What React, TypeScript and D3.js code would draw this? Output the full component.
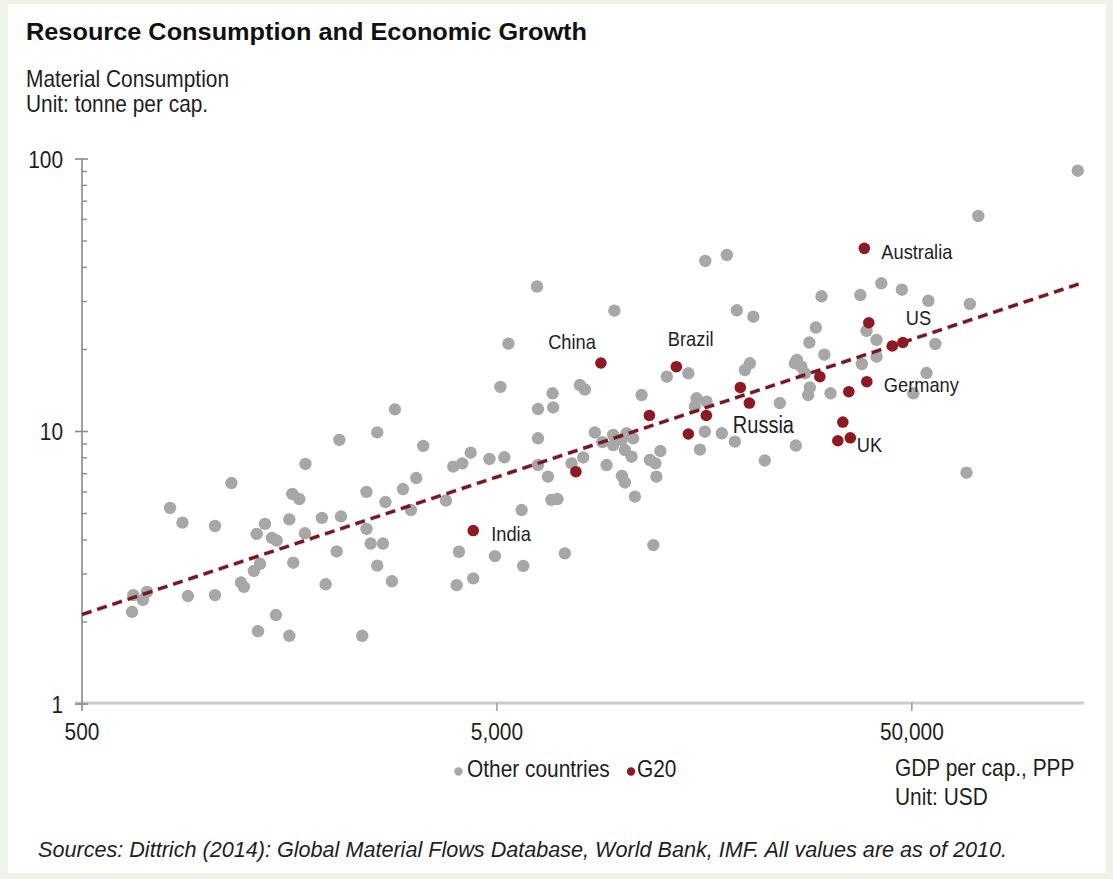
import React from 'react';
import * as d3 from 'd3';

// ---------- DATA ----------
// Other countries: GDP per cap. (PPP, USD) and material consumption (tonne per cap.)
const otherGdp = [
  665, 717, 701, 660, 815, 873, 900, 1046, 1046, 1146,
  1208, 1228, 1298, 1328, 1343, 1318, 1380, 1435, 1473, 1467,
  1580, 1580, 1606, 1670, 1615, 1728, 1723, 1893, 1933, 2085,
  2104, 2055, 2368, 2424, 2424, 2481, 2656, 2574, 2792, 2574,
  2693, 2839, 2968, 3103, 3196, 3322, 3768, 3924, 3999, 4050,
  4125, 4322, 4384, 4796, 4945, 5097, 5210, 5330, 5735, 5786,
  6245, 6280, 6280, 6280, 6636, 6765, 6995, 6810, 6833, 7290,
  7568, 7924, 8146, 8072, 8609, 8978, 9532, 9988, 10268, 10651,
  10172, 10558, 9532, 9190, 9596, 10006, 10172, 10752, 11158, 11686,
  12048, 12115, 12386, 11915, 12838, 14466, 15141, 15000, 16004, 15423,
  15856, 15890, 17913, 17420, 18726, 18934, 20751, 20352, 19797, 22113,
  24034, 26127, 26272, 26421, 27084, 27620, 28312, 29354, 28388, 28125,
  30296, 30771, 31850, 37571, 37887, 41108, 41108, 42214, 47302, 50416,
  54254, 54806, 56965, 67727, 68987, 72309, 125594, 38887,
];
const otherMaterial = [
  2.51, 2.58, 2.41, 2.18, 5.24, 4.63, 2.49, 4.5, 2.51, 6.47,
  2.79, 2.69, 3.08, 1.85, 3.27, 4.21, 4.58, 4.07, 3.98, 2.12,
  4.76, 1.78, 5.9, 5.65, 3.3, 7.6, 4.23, 4.82, 2.75, 9.31,
  4.88, 3.63, 1.78, 6.0, 4.39, 3.88, 3.88, 3.22, 2.82, 9.93,
  5.51, 12.06, 6.15, 5.15, 6.75, 8.85, 5.58, 7.43, 2.73, 3.62,
  7.64, 8.36, 2.89, 7.93, 3.49, 14.57, 8.04, 21.0, 5.15, 3.21,
  34.05, 12.09, 9.44, 7.53, 6.83, 5.61, 5.65, 13.81, 12.25, 3.57,
  7.64, 14.81, 14.26, 8.03, 9.92, 9.14, 9.71, 9.31, 9.85, 9.44,
  8.55, 8.08, 8.92, 7.53, 27.76, 6.87, 6.5, 5.77, 13.61, 7.86,
  7.64, 6.83, 8.48, 3.83, 15.89, 16.35, 13.24, 12.33, 12.86, 8.58,
  9.98, 42.24, 44.43, 9.85, 9.18, 27.85, 26.38, 17.8, 16.81, 7.83,
  12.72, 17.8, 8.88, 18.3, 17.29, 16.35, 21.21, 24.07, 14.51, 13.61,
  31.34, 19.13, 13.81, 31.68, 17.69, 21.67, 18.81, 34.99, 33.14, 13.81,
  16.39, 30.17, 20.95, 7.06, 29.37, 61.78, 90.6, 23.4,
];

// G20 members
const g20Names = [
  'India', 'Indonesia', 'China', 'South Africa', 'Brazil', 'Turkey', 'Mexico',
  'Argentina', 'Russia', 'Korea', 'Italy', 'Germany', 'Saudi Arabia', 'Australia',
  'Canada', 'US', 'France', 'UK', 'Japan',
];
const g20Gdp = [
  4384, 7751, 8904, 11654, 13535, 14466, 15986,
  19303, 20296, 30012, 35246, 38949, 39381, 38414,
  44872, 47567, 34094, 33163, 35540,
];
const g20Material = [
  4.33, 7.12, 17.84, 11.45, 17.29, 9.79, 11.45,
  14.51, 12.72, 15.89, 14.0, 15.23, 25.07, 47.01,
  20.6, 21.21, 10.83, 9.25, 9.48,
];
const labelledCountries = ['India', 'China', 'Brazil', 'Russia', 'Australia', 'US', 'Germany', 'UK'];

// Trend line (log-log fit) end points
const trendGdp = [500, 128000];
const trendMaterial = [2.13, 35.0];

// Axis ticks
const xTickValues = [500, 5000, 50000];
const xTickLabels = ['500', '5,000', '50,000'];
const yTickValues = [1, 10, 100];
const yTickLabels = ['1', '10', '100'];
const yMinorTicks = [2, 3, 4, 5, 6, 7, 8, 9, 20, 30, 40, 50, 60, 70, 80, 90];

// Texts
const titleText = 'Resource Consumption and Economic Growth';
const yTitle = ['Material Consumption', 'Unit: tonne per cap.'];
const xTitle = ['GDP per cap., PPP', 'Unit: USD'];
const legendItems = ['Other countries', 'G20'];
const sourceText =
  'Sources: Dittrich (2014): Global Material Flows Database, World Bank, IMF. All values are as of 2010.';

// ---------- STYLE / LAYOUT ----------
const W = 1113;
const H = 879;
const GRAY = '#a7a7a7';
const RED = '#8c1a22';
const TEXT = '#1e1e1e';
const FONT = '"Liberation Sans", Arial, Helvetica, sans-serif';
const SX = 0.87; // condensed look of the original typeface

// label offsets (pixels) relative to point
const labelOffsets: Record<string, { dx: number; dy: number; anchor: string; size: number }> = {
  India: { dx: 18, dy: 10, anchor: 'start', size: 21 },
  China: { dx: -5, dy: -14, anchor: 'end', size: 21 },
  Brazil: { dx: -8.5, dy: -21, anchor: 'start', size: 21 },
  Russia: { dx: -16.5, dy: 30, anchor: 'start', size: 23 },
  Australia: { dx: 17, dy: 11, anchor: 'start', size: 21 },
  US: { dx: 3, dy: -17.5, anchor: 'start', size: 21 },
  Germany: { dx: 17, dy: 10.5, anchor: 'start', size: 21 },
  UK: { dx: 19, dy: 11, anchor: 'start', size: 21 },
};

function T(props: {
  x: number; y: number; size?: number; anchor?: string; weight?: string;
  italic?: boolean; sx?: number; children: React.ReactNode; fill?: string;
}) {
  const { x, y, size = 24, anchor = 'start', weight = 'normal', italic = false, sx = SX, fill = TEXT } = props;
  return (
    <g transform={`translate(${x},${y}) scale(${sx},1)`}>
      <text
        x={0}
        y={0}
        fontSize={size}
        fontFamily={FONT}
        fontWeight={weight}
        fontStyle={italic ? 'italic' : 'normal'}
        textAnchor={anchor as any}
        fill={fill}
      >
        {props.children}
      </text>
    </g>
  );
}

export default function App() {
  const x = d3.scaleLog().domain([500, 130000]).range([82, 1084]);
  const y = d3.scaleLog().domain([1, 100]).range([704, 159]);

  const trendLine = d3
    .line<number>()
    .x((d) => x(trendGdp[d]))
    .y((d) => y(trendMaterial[d]))(trendGdp.map((_, i) => i)) as string;

  const xAxisY = 703;
  const yAxisX = x(500);

  return (
    <svg
      width={W}
      height={H}
      style={{ position: 'absolute', left: 0, top: 0, display: 'block' }}
      xmlns="http://www.w3.org/2000/svg"
    >
      <rect x={0} y={0} width={W} height={H} fill="#eff2e7" />
      <rect x={8} y={4} width={1098} height={869} fill="#ffffff" />

      {/* Title */}
      <text
        x={26}
        y={40}
        fontSize={23}
        fontWeight="bold"
        fontFamily={FONT}
        fill="#111"
        textLength={561}
        lengthAdjust="spacingAndGlyphs"
      >
        {titleText}
      </text>

      {/* Y axis title */}
      <T x={26} y={87}>{yTitle[0]}</T>
      <T x={26} y={112}>{yTitle[1]}</T>

      {/* X axis */}
      <line x1={75} x2={1084} y1={xAxisY} y2={xAxisY} stroke="#cbcbcb" strokeWidth={3} />
      {xTickValues.map((v, i) => (
        <g key={'xt' + i}>
          {i > 0 && (
            <line x1={x(v)} x2={x(v)} y1={xAxisY} y2={xAxisY + 8} stroke="#9a9a9a" strokeWidth={1.5} />
          )}
          <T x={x(v)} y={740} anchor="middle">{xTickLabels[i]}</T>
        </g>
      ))}

      {/* Y axis */}
      <line x1={yAxisX} x2={yAxisX} y1={y(100)} y2={711} stroke="#8a8a8a" strokeWidth={1.6} />
      {yMinorTicks.map((v) => (
        <line key={'ym' + v} x1={yAxisX} x2={yAxisX + 5} y1={y(v)} y2={y(v)} stroke="#8a8a8a" strokeWidth={1.4} />
      ))}
      {yTickValues.map((v, i) => (
        <g key={'yt' + i}>
          <line x1={yAxisX - 7} x2={yAxisX + 6} y1={y(v)} y2={y(v)} stroke="#8a8a8a" strokeWidth={1.6} />
          <T x={63} y={y(v) + 8.5} anchor="end">{yTickLabels[i]}</T>
        </g>
      ))}

      {/* Other countries */}
      {otherGdp.map((g, i) => (
        <circle key={'o' + i} cx={x(g)} cy={y(otherMaterial[i])} r={6.2} fill={GRAY} />
      ))}

      {/* Trend line */}
      <path d={trendLine} fill="none" stroke="#c04a50" strokeOpacity={0.35} strokeWidth={4.6} strokeDasharray="10 6" />
      <path d={trendLine} fill="none" stroke="#6f1a20" strokeWidth={3.2} strokeDasharray="10 6" />

      {/* G20 */}
      {g20Gdp.map((g, i) => (
        <circle key={'g' + i} cx={x(g)} cy={y(g20Material[i])} r={5.8} fill={RED} />
      ))}
      {g20Names.map((n, i) => {
        if (!labelledCountries.includes(n)) return null;
        const o = labelOffsets[n];
        return (
          <T key={'l' + n} x={x(g20Gdp[i]) + o.dx} y={y(g20Material[i]) + o.dy} anchor={o.anchor} size={o.size}>
            {n}
          </T>
        );
      })}

      {/* Legend */}
      <circle cx={458.5} cy={771.5} r={4.2} fill={GRAY} />
      <T x={467} y={777}>{legendItems[0]}</T>
      <circle cx={631} cy={771.5} r={4.2} fill={RED} />
      <T x={637} y={777}>{legendItems[1]}</T>

      {/* X axis title */}
      <T x={895} y={776}>{xTitle[0]}</T>
      <T x={895} y={805}>{xTitle[1]}</T>

      {/* Source */}
      <text
        x={38}
        y={857}
        fontSize={22}
        fontStyle="italic"
        fontFamily={FONT}
        fill={TEXT}
        textLength={969}
        lengthAdjust="spacingAndGlyphs"
      >
        {sourceText}
      </text>
    </svg>
  );
}
